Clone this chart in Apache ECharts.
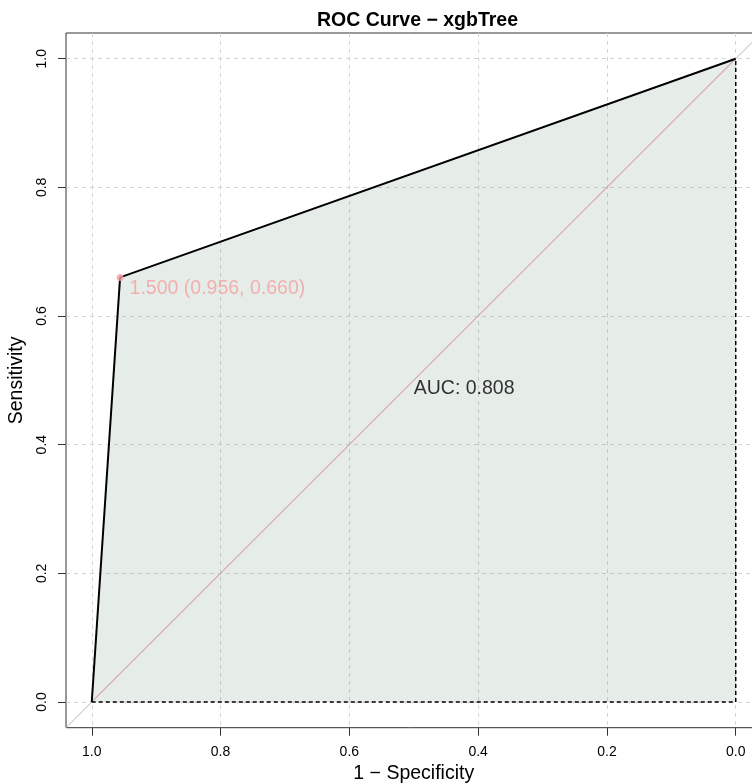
<!DOCTYPE html>
<html>
<head>
<meta charset="utf-8">
<script src="https://cdn.jsdelivr.net/npm/echarts@6/dist/echarts.min.js"></script>
<style>
  html, body { margin: 0; padding: 0; background: #fff; }
  #chart { width: 752px; height: 784px; }
</style>
</head>
<body>
<div id="chart"></div>
<script>
// ROC curve points (specificity, sensitivity)
const rocSpec = [1.0, 0.956, 0.0]
const rocSens = [0.0, 0.660, 1.0]

// best threshold marker
const bestThreshold = 1.5
const bestSpec = 0.956
const bestSens = 0.660
const aucValue = 0.808

// labelled ticks
const xTicks = [1.0, 0.8, 0.6, 0.4, 0.2, 0.0]
const yTicks = [0.0, 0.2, 0.4, 0.6, 0.8, 1.0]

const FONT = '"Liberation Sans", Arial, Helvetica, sans-serif'

const chart = echarts.init(document.getElementById('chart'), null, { renderer: 'canvas' })

const rocData = rocSpec.map((s, i) => [s, rocSens[i]])

const option = {
    backgroundColor: '#fff',
    animation: false,
    title: {
        text: 'ROC Curve \u2212 xgbTree',
        left: 312,
        top: 6,
        textStyle: { fontFamily: FONT, fontSize: 19.5, fontWeight: 'bold', color: '#000' }
    },
    grid: {
        left: 66,
        top: 33,
        width: 695.5,
        height: 694.7,
        outerBoundsMode: 'none',
        containLabel: false,
        show: true,
        borderColor: '#333',
        borderWidth: 1,
        backgroundColor: 'transparent'
    },
    xAxis: {
        type: 'value',
        inverse: true,
        min: -0.04,
        max: 1.04,
        splitNumber: 10,
        name: '1 \u2212 Specificity',
        nameLocation: 'middle',
        nameGap: 34,
        nameTextStyle: { fontFamily: FONT, fontSize: 19.5, color: '#000' },
        axisLine: { show: false, onZero: false },
        axisTick: {
            show: true,
            length: 8,
            customValues: xTicks,
            lineStyle: { color: '#333', width: 1 }
        },
        axisLabel: {
            customValues: xTicks,
            margin: 17,
            fontFamily: FONT,
            fontSize: 14,
            color: '#000',
            formatter: v => v.toFixed(1)
        },
        splitLine: {
            show: true,
            lineStyle: { color: '#d4d4d4', type: [4, 4], width: 1 }
        }
    },
    yAxis: {
        type: 'value',
        min: -0.04,
        max: 1.04,
        splitNumber: 10,
        name: 'Sensitivity',
        nameLocation: 'middle',
        nameGap: 38,
        nameTextStyle: { fontFamily: FONT, fontSize: 19.5, color: '#000' },
        axisLine: { show: false, onZero: false },
        axisTick: {
            show: true,
            length: 8,
            customValues: yTicks,
            lineStyle: { color: '#333', width: 1 }
        },
        axisLabel: {
            customValues: yTicks,
            rotate: 90,
            margin: 17,
            fontFamily: FONT,
            fontSize: 14,
            color: '#000',
            formatter: v => v.toFixed(1)
        },
        splitLine: {
            show: true,
            lineStyle: { color: '#d4d4d4', type: [4, 4], width: 1 }
        }
    },
    series: [
        // AUC polygon fill, down to sensitivity 0
        {
            type: 'line',
            data: rocData,
            symbol: 'none',
            lineStyle: { width: 0 },
            areaStyle: { color: 'rgba(90, 140, 110, 0.22)', origin: 'auto' },
            z: 1,
            silent: true
        },
        // chance diagonal, outside the polygon
        {
            type: 'line',
            data: [[1.04, -0.04], [1.0, 0.0]],
            symbol: 'none',
            lineStyle: { color: '#b4b4b4', width: 1 },
            z: 2
        },
        {
            type: 'line',
            data: [[0.0, 1.0], [-0.04, 1.04]],
            symbol: 'none',
            lineStyle: { color: '#b4b4b4', width: 1 },
            z: 2
        },
        // chance diagonal inside the polygon
        {
            type: 'line',
            data: [[1.0, 0.0], [0.0, 1.0]],
            symbol: 'none',
            lineStyle: { color: '#d9a4a4', width: 1.1 },
            z: 3
        },
        // dashed polygon border
        {
            type: 'line',
            data: [[rocSpec[0], 0], [rocSpec[rocSpec.length - 1], 0], [rocSpec[rocSpec.length - 1], rocSens[rocSens.length - 1]]],
            symbol: 'none',
            lineStyle: { color: '#000', width: 1.5, type: [4, 3] },
            z: 4
        },
        // ROC curve
        {
            type: 'line',
            data: rocData,
            symbol: 'none',
            lineStyle: { color: '#000', width: 2 },
            z: 5
        },
        // best threshold point
        {
            type: 'scatter',
            data: [[bestSpec, bestSens]],
            symbolSize: 7,
            itemStyle: { color: '#f4a0a0' },
            label: {
                show: true,
                position: 'right',
                distance: 6,
                offset: [0, 11],
                fontFamily: FONT,
                fontSize: 19.5,
                color: '#f4a0a0',
                formatter: () => `${bestThreshold.toFixed(3)} (${bestSpec.toFixed(3)}, ${bestSens.toFixed(3)})`
            },
            z: 6
        },
        // AUC text
        {
            type: 'scatter',
            data: [[0.5, 0.5]],
            symbolSize: 0,
            itemStyle: { color: 'transparent' },
            label: {
                show: true,
                position: 'right',
                distance: 0,
                offset: [0, 8],
                fontFamily: FONT,
                fontSize: 19.5,
                color: '#000',
                formatter: () => `AUC: ${aucValue.toFixed(3)}`
            },
            z: 6
        }
    ]
}

chart.setOption(option)
window.addEventListener('resize', () => chart.resize())
</script>
</body>
</html>
